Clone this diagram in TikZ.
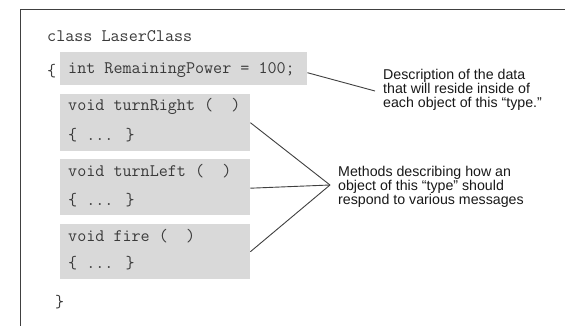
\documentclass[tikz,border=0pt]{standalone}
\usepackage{fontspec}
\setmainfont{Liberation Sans}
\begin{document}
\begin{tikzpicture}[x=1pt,y=-1pt,
  codebox/.style={fill=boxgray,draw=none,inner sep=0pt,anchor=north west},
  code/.style={font=\fontsize{17.6}{20}\ttfamily,text=codegray,anchor=west,inner sep=0pt},
  note/.style={font=\fontsize{14.2}{14.2}\selectfont,text=black!90,anchor=west,align=left,inner sep=0pt},
  conn/.style={draw=linegray,line width=0.9pt}]
\definecolor{boxgray}{HTML}{D9D9D9}
\definecolor{codegray}{HTML}{3A3A3A}
\definecolor{linegray}{HTML}{404040}
\useasboundingbox (0,0) rectangle (565,326);
\fill[white] (0,0) rectangle (565,326);
% frame
\coordinate (ftl) at (20.5,9.5);
\coordinate (ftr) at (566,9.5);
\coordinate (fbl) at (20.5,327);
\draw[draw=linegray,line width=1.1pt] (ftr) -- (ftl) -- (fbl);
% boxes
\node[codebox,minimum width=247pt,minimum height=33pt] (ib) at (60,52) {};
\node[codebox,minimum width=190pt,minimum height=57pt] (rb) at (60,94) {};
\node[codebox,minimum width=190pt,minimum height=56pt] (lb) at (60,159) {};
\node[codebox,minimum width=190pt,minimum height=55pt] (fb) at (60,224) {};
% code text
\node[code] (cls) at (47,36) {class LaserClass};
\node[code] (ob) at (47,71) {\{};
\node[code] (it) at (68,70) {int RemainingPower = 100;};
\node[code] (r1) at (68,106) {void turnRight (~~)};
\node[code] (r2) at (68,135) {\{ ... \}};
\node[code] (l1) at (68,171) {void turnLeft (~~)};
\node[code] (l2) at (68,200) {\{ ... \}};
\node[code] (f1) at (68,236) {void fire (~~)};
\node[code] (f2) at (68,263) {\{ ... \}};
\node[code] (cb) at (55,302) {\}};
% notes
\node[note] (dn) at (383,90) {Description of the data\\that will reside inside of\\each object of this “type.”};
\node[note] (mn) at (338,187) {Methods describing how an\\object of this “type” should\\respond to various messages};
% connectors
\coordinate (dend) at (375,91);
\coordinate (mc) at (330,185);
\draw[conn] ([yshift=-4pt]ib.east) -- (dend);
\draw[conn] (rb.east) -- (mc);
\draw[conn] ([yshift=-1pt]lb.east) -- (mc);
\draw[conn] (fb.east) -- (mc);
\end{tikzpicture}
\end{document}
